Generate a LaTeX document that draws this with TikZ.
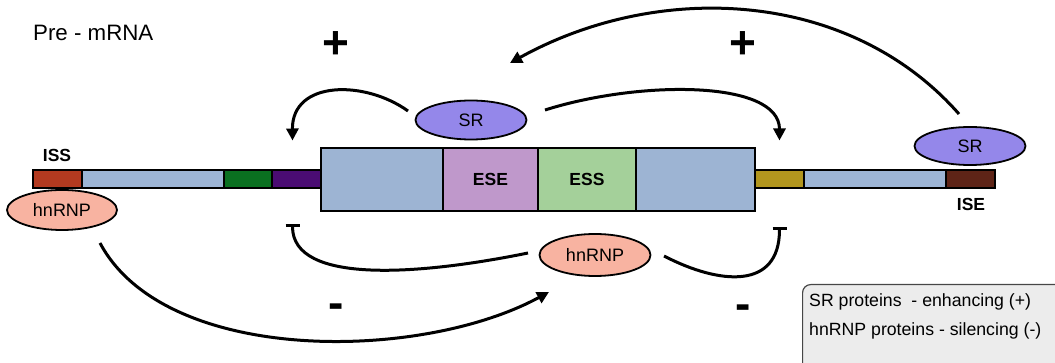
\documentclass[tikz,border=0pt]{standalone}
\usepackage{fontspec}
\setmainfont{Liberation Sans}
\usetikzlibrary{arrows.meta,calc,shapes.geometric}

\definecolor{issred}{RGB}{178,58,32}
\definecolor{intronblue}{RGB}{157,181,213}
\definecolor{sitegreen}{RGB}{10,112,32}
\definecolor{sitepurple}{RGB}{74,12,115}
\definecolor{exonblue}{RGB}{157,180,211}
\definecolor{eselilac}{RGB}{191,152,203}
\definecolor{essgreen}{RGB}{164,208,154}
\definecolor{sitegold}{RGB}{178,150,30}
\definecolor{isebrown}{RGB}{94,36,23}
\definecolor{srviolet}{RGB}{148,135,234}
\definecolor{hnsalmon}{RGB}{248,179,161}
\definecolor{legendfill}{RGB}{236,236,236}
\definecolor{legendedge}{RGB}{70,70,70}

\begin{document}
\begin{tikzpicture}[x=1pt,y=-1pt,
  seg/.style={draw=black, line width=2pt, minimum height=18pt, inner sep=0pt, outer sep=0pt},
  exonpart/.style={draw=black, line width=2pt, minimum height=63pt, inner sep=0pt, outer sep=0pt,
    font=\bfseries\fontsize{17.5}{20}\selectfont},
  prot/.style={ellipse, draw=black, line width=1.8pt, inner sep=0pt, outer sep=0pt,
    font=\fontsize{18}{20}\selectfont},
  site/.style={font=\bfseries\fontsize{17.5}{20}\selectfont, inner sep=0pt},
  act/.style={line width=3pt, -{Triangle[length=12pt,width=12pt]}},
  inh/.style={line width=3pt, -{Bar[width=14pt]}},
  sign/.style={font=\bfseries\fontsize{46}{46}\selectfont, inner sep=0pt},
  legendtext/.style={font=\fontsize{17.7}{20}\selectfont, inner sep=0pt, anchor=base west},
]
\useasboundingbox (0,0) rectangle (1055,363);

% title
\node[font=\fontsize{22.3}{24}\selectfont, inner sep=0pt, anchor=base west] (title) at (33,41) {Pre - mRNA};

% upstream intron
\node[seg, fill=issred,     minimum width=49pt]  (iss)    at (57.5,179.5) {};
\node[seg, fill=intronblue, minimum width=142pt] (intL)   at (153,179.5) {};
\node[seg, fill=sitegreen,  minimum width=48pt]  (green)  at (248,179.5) {};
\node[seg, fill=sitepurple, minimum width=49pt]  (purple) at (296.5,179.5) {};

% downstream intron
\node[seg, fill=sitegold,   minimum width=49pt]  (gold)   at (779.5,179.5) {};
\node[seg, fill=intronblue, minimum width=142pt] (intR)   at (875,179.5) {};
\node[seg, fill=isebrown,   minimum width=49pt]  (ise)    at (970.5,179.5) {};

% exon with its regulatory elements
\node[exonpart, fill=exonblue, minimum width=122pt] (exL) at (382,179.5) {};
\node[exonpart, fill=eselilac, minimum width=95pt]  (ese) at (490.5,179.5) {ESE};
\node[exonpart, fill=essgreen, minimum width=98pt]  (ess) at (587,179.5) {ESS};
\node[exonpart, fill=exonblue, minimum width=119pt] (exR) at (695.5,179.5) {};

% element labels
\node[site, anchor=base] (issl) at (57,162) {ISS};
\node[site, anchor=base] (isel) at (971,211) {ISE};

% binding proteins
\node[prot, fill=hnsalmon, minimum width=110pt, minimum height=40pt] (hnL) at (62,210) {hnRNP};
\node[prot, fill=srviolet, minimum width=111pt, minimum height=38pt] (srR) at (970,146) {SR};
\node[prot, fill=srviolet, minimum width=111pt, minimum height=39pt] (srT) at (471,120) {SR};
\node[prot, fill=hnsalmon, minimum width=111pt, minimum height=42pt] (hnB) at (595,255) {hnRNP};

% SR proteins enhance the neighbouring splice sites
\draw[act] ($(srT)+(-63,-9)$) .. controls (365,80) and (292,80) .. ($(purple.north)+(-4,-30)$);
\draw[act] ($(srT)+(74,-10)$) .. controls (640,80) and (779.5,80) .. ($(gold.north)+(0,-30)$);
\draw[act] ($(srR)+(-11,-32)$) .. controls (850,-10) and (660,-20) .. ($(srT)+(39,-57)$);

% hnRNP proteins silence the neighbouring splice sites
\draw[inh] ($(hnB)+(-67,-2)$) .. controls (420,275) and (292.5,285) .. ($(purple.south)+(-4,36)$);
\draw[inh] ($(hnB)+(69,1)$) .. controls (720,285) and (779.5,290) .. ($(gold.south)+(0,39)$);
\draw[act] ($(hnL)+(38,33)$) .. controls (165,365) and (420,362) .. ($(hnB)+(-46,37)$);

% signs
\node[sign] (plusL)  at (336,45)  {+};
\node[sign] (plusR)  at (743,45)  {+};
\node[sign] (minusL) at (336,311) {-};
\node[sign] (minusR) at (743,312) {-};

% legend
\node[draw=legendedge, fill=legendfill, line width=1.2pt, rounded corners=8pt,
      anchor=north west, minimum width=300pt, minimum height=120pt] (legend) at (802,284) {};
\node[legendtext] (leg1) at (809,307) {SR proteins\ \ - enhancing (+)};
\node[legendtext] (leg2) at (809,335) {hnRNP proteins - silencing (-)};
\end{tikzpicture}
\end{document}
